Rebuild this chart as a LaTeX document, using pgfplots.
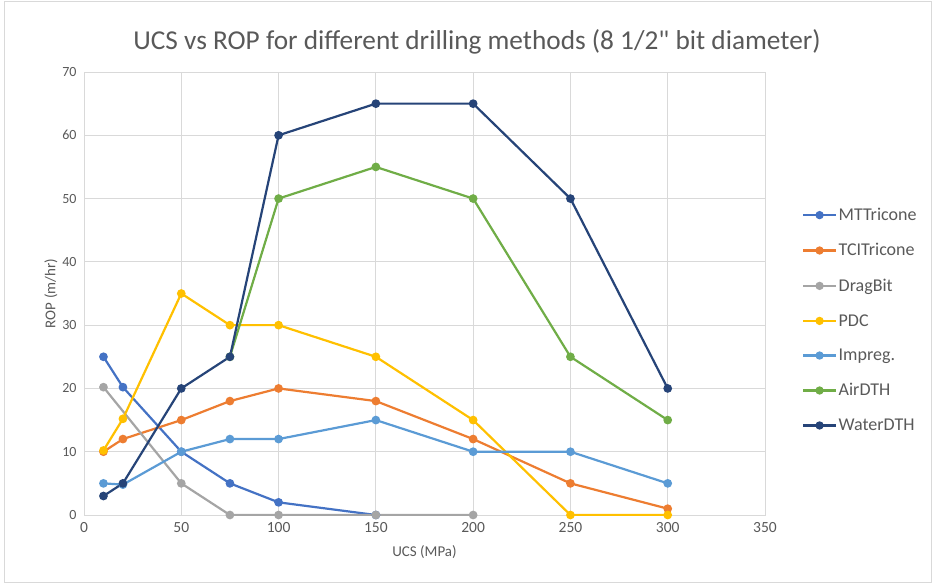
\documentclass[border=0pt]{standalone}
\usepackage{fontspec}
\setmainfont{Carlito}[Ligatures=TeXOff]
\usepackage{pgfplots}
\pgfplotsset{compat=1.18}
\definecolor{cMT}{HTML}{4472C4}
\definecolor{cTCI}{HTML}{ED7D31}
\definecolor{cDrag}{HTML}{A5A5A5}
\definecolor{cPDC}{HTML}{FFC000}
\definecolor{cImp}{HTML}{5B9BD5}
\definecolor{cAir}{HTML}{70AD47}
\definecolor{cWat}{HTML}{264478}
\definecolor{txt}{HTML}{595959}
\definecolor{grd}{HTML}{D9D9D9}
\begin{document}
\begin{tikzpicture}[x=1pt,y=1pt]
\useasboundingbox (0,0) rectangle (936,584);
\draw[grd, line width=1pt] (4,2) rectangle (931,582);
\node[text=txt, font=\fontsize{27.3}{31}\selectfont] at (477,542) {UCS vs ROP for different drilling methods (8 1/2" bit diameter)};
\begin{axis}[
  at={(84pt,69pt)}, anchor=south west,
  scale only axis, width=681pt, height=443pt,
  xmin=0, xmax=350, ymin=0, ymax=70,
  xtick={0,50,...,350}, ytick={0,10,...,70},
  grid=major,
  major grid style={grd, line width=0.9pt},
  axis line style={grd, line width=0.9pt},
  tick style={draw=none},
  /pgf/number format/assume math mode=true,
  ticklabel style={text=txt},
  xticklabel style={yshift=-4pt, font=\fontsize{15.5}{17}\selectfont},
  yticklabel style={xshift=-4pt, font=\fontsize{14}{16}\selectfont},
  xlabel={UCS (MPa)}, ylabel={ROP (m/hr)},
  label style={text=txt, font=\fontsize{15}{17}\selectfont},
  xlabel style={yshift=-6pt},
  ylabel style={yshift=-2pt},
  every axis plot/.append style={line width=2.2pt, mark=*, mark size=3.2pt},
  legend style={at={(1.054,0.44)}, anchor=west, draw=none, fill=none,
    font=\fontsize{18}{21}\selectfont, text=txt, row sep=18.5pt,
    inner sep=0pt, nodes={inner sep=1.5pt}},
  legend cell align=left,
  legend image code/.code={
    \draw[#1, line width=2.2pt] (0pt,0pt) -- (33pt,0pt);
    \fill[#1] (16.5pt,0pt) circle (3pt);
  },
]
\addplot[cMT, mark options={fill=cMT}] coordinates {(10,25) (20,20.2) (50,10) (75,5) (100,2) (150,0)};
\addlegendentry{MTTricone}
\addplot[cTCI, mark options={fill=cTCI}] coordinates {(10,10) (20,12) (50,15) (75,18) (100,20) (150,18) (200,12) (250,5) (300,1)};
\addlegendentry{TCITricone}
\addplot[cDrag, mark options={fill=cDrag}] coordinates {(10,20.2) (50,5) (75,0) (100,0) (150,0) (200,0)};
\addlegendentry{DragBit}
\addplot[cPDC, mark options={fill=cPDC}] coordinates {(10,10.2) (20,15.2) (50,35) (75,30) (100,30) (150,25) (200,15) (250,0) (300,0)};
\addlegendentry{PDC}
\addplot[cImp, mark options={fill=cImp}] coordinates {(10,5) (20,4.8) (50,10) (75,12) (100,12) (150,15) (200,10) (250,10) (300,5)};
\addlegendentry{Impreg.}
\addplot[cAir, mark options={fill=cAir}] coordinates {(75,25) (100,50) (150,55) (200,50) (250,25) (300,15)};
\addlegendentry{AirDTH}
\addplot[cWat, mark options={fill=cWat}] coordinates {(10,3) (20,5) (50,20) (75,25) (100,60) (150,65) (200,65) (250,50) (300,20)};
\addlegendentry{WaterDTH}
\end{axis}
\end{tikzpicture}
\end{document}
